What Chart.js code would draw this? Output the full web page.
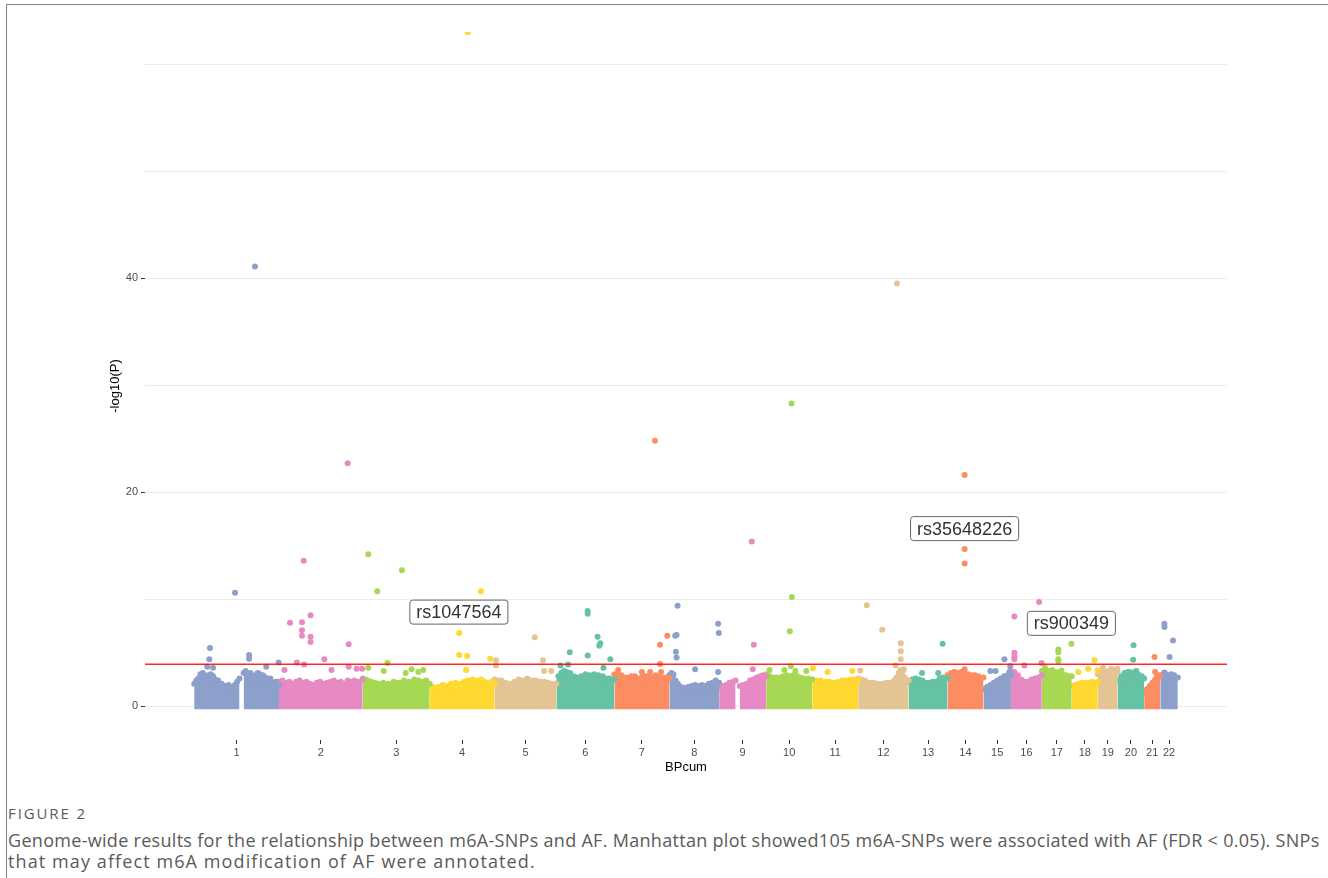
<!DOCTYPE html>
<html>
<head>
<meta charset="utf-8">
<script src="https://cdn.jsdelivr.net/npm/chart.js@4.4.1/dist/chart.umd.min.js"></script>
<style>
  html, body { margin: 0; padding: 0; background: #fff; }
  body { width: 1328px; height: 878px; position: relative; overflow: hidden; }
  #frame { position: absolute; left: 6px; top: 4px; width: 1322px; height: 874px;
           border-top: 1px solid #808080; border-left: 1px solid #808080; }
  #plot { position: absolute; left: 0; top: 0; }
  .caption { position: absolute; left: 8px; font-family: "Open Sans", sans-serif; color: #5a5a5a; white-space: nowrap; }
  #figno { top: 803px; font-size: 15px; letter-spacing: 1.9px; }
  #figline1 { top: 830px; font-size: 18px; line-height: 21px; letter-spacing: 0.3px; }
  #figline2 { top: 851px; font-size: 18px; line-height: 21px; letter-spacing: 1.1px; }
</style>
</head>
<body>
<div id="frame"></div>
<canvas id="plot" width="1328" height="790"></canvas>
<div class="caption" id="figno">FIGURE 2</div>
<div class="caption" id="figline1">Genome-wide results for the relationship between m6A-SNPs and AF. Manhattan plot showed105 m6A-SNPs were associated with AF (FDR &lt; 0.05). SNPs</div>
<div class="caption" id="figline2">that may affect m6A modification of AF were annotated.</div>
<script>
// chromosomes and their lengths (Mb) used to build BPcum
const chromosomes = ['1','2','3','4','5','6','7','8','9','10','11','12','13','14','15','16','17','18','19','20','21','22'];
const chromLengthMb = [247,244,195,189,180,169,160,145,137,134,134,147,113,105,80,90,87,76,58,77,47,51];
const chromColours = ['#8DA0CB','#E78AC3','#A6D854','#FFD92F','#E5C494','#66C2A5','#FC8D62'];

const yGrid = [0,10,20,30,40,50,60];
const yLabels = [0,20,40];
const threshold = 3.93;

// upper edge of the dense cloud of SNPs per chromosome: [position Mb, -log10(P)], null = no SNPs
const bandEdge = [
  [[0,2.1],[6,2.4],[12,2.6],[18,3.0],[25,3.1],[32,2.8],[40,2.9],[48,3.0],[55,2.8],[62,2.5],[70,2.4],[80,2.1],[90,1.9],[100,2.0],[110,1.8],[118,2.0],[125,2.3],[132,2.6],[137,null],[144,3.1],[150,3.3],[157,2.9],[164,3.1],[170,2.6],[178,2.9],[185,3.1],[192,3.0],[200,2.9],[208,2.7],[215,2.5],[222,2.6],[230,2.2],[238,2.3],[247,2.0]],
  [[0,2.3],[10,2.4],[20,2.2],[30,2.3],[40,2.1],[50,2.3],[60,2.4],[70,2.2],[80,2.3],[90,2.1],[100,2.0],[110,2.2],[120,2.3],[130,2.1],[140,2.2],[150,2.3],[160,2.4],[170,2.2],[180,2.3],[190,2.1],[200,2.4],[210,2.3],[220,2.4],[232,2.3],[244,2.5]],
  [[0,2.6],[8,2.5],[15,2.4],[25,2.3],[35,2.2],[45,2.1],[60,2.2],[75,2.1],[90,2.3],[105,2.2],[120,2.4],[135,2.3],[150,2.5],[162,2.4],[175,2.3],[185,2.4],[195,2.1]],
  [[0,1.9],[10,1.8],[25,1.8],[38,2.0],[50,1.9],[62,2.1],[75,2.2],[88,2.1],[100,2.3],[112,2.4],[125,2.5],[138,2.4],[150,2.5],[160,2.3],[170,2.2],[180,2.3],[189,2.1]],
  [[0,2.5],[10,2.4],[20,2.4],[32,2.2],[45,2.1],[58,2.3],[70,2.5],[82,2.4],[95,2.6],[108,2.4],[120,2.4],[132,2.3],[145,2.3],[155,2.2],[165,2.1],[180,2.1]],
  [[0,2.1],[6,2.8],[14,3.1],[22,3.3],[30,3.2],[40,3.1],[50,2.8],[60,2.7],[72,2.8],[85,3.0],[98,2.9],[110,3.0],[122,2.9],[135,2.8],[145,2.6],[155,2.6],[169,2.5]],
  [[0,3.0],[10,2.9],[20,2.9],[30,2.7],[40,2.7],[50,2.8],[60,2.8],[70,2.6],[80,2.7],[90,2.8],[100,2.8],[110,2.7],[120,2.9],[130,2.8],[140,2.7],[150,2.7],[160,2.6]],
  [[0,2.9],[6,3.1],[12,3.0],[18,2.4],[25,2.1],[35,1.8],[45,1.7],[55,1.8],[65,1.9],[75,2.0],[85,1.9],[95,2.0],[105,1.9],[115,2.1],[125,2.2],[135,2.4],[145,2.2]],
  [[0,1.8],[10,1.9],[20,2.0],[30,2.2],[40,2.3],[48,2.4],[53,null],[60,1.9],[70,2.0],[80,2.1],[90,2.4],[100,2.5],[110,2.7],[120,2.8],[128,2.9],[137,2.8]],
  [[0,3.0],[10,2.8],[20,2.7],[30,2.7],[40,2.7],[50,2.8],[60,2.9],[70,2.8],[80,2.9],[90,2.8],[100,2.7],[110,2.6],[122,2.6],[134,2.5]],
  [[0,2.5],[12,2.4],[25,2.4],[38,2.3],[50,2.3],[62,2.2],[75,2.3],[88,2.4],[100,2.4],[112,2.5],[124,2.5],[134,2.4]],
  [[0,2.6],[10,2.5],[20,2.4],[32,2.2],[45,2.2],[58,2.1],[70,2.1],[82,2.2],[95,2.2],[105,2.4],[112,2.7],[118,3.1],[124,3.4],[130,3.3],[136,2.7],[147,2.4]],
  [[0,2.3],[10,2.5],[20,2.6],[30,2.5],[40,2.4],[50,2.2],[60,2.2],[70,2.3],[80,2.3],[90,2.6],[100,2.7],[113,2.6]],
  [[0,2.9],[10,3.1],[20,3.2],[30,3.1],[40,3.2],[50,3.1],[60,3.0],[70,2.9],[80,2.9],[90,2.8],[105,2.7]],
  [[0,1.6],[10,1.8],[20,2.0],[30,2.2],[40,2.4],[50,2.6],[60,2.8],[70,2.9],[80,2.9]],
  [[0,3.3],[10,3.2],[20,2.9],[30,2.5],[40,2.3],[50,2.3],[60,2.5],[70,2.6],[80,2.7],[90,2.9]],
  [[0,3.3],[10,3.4],[20,3.3],[30,3.4],[40,3.2],[50,3.1],[60,3.0],[70,2.9],[80,2.8],[87,2.8]],
  [[0,1.9],[10,2.0],[20,2.1],[30,2.2],[40,2.2],[50,2.2],[60,2.3],[68,2.2],[76,2.3]],
  [[0,3.0],[8,3.2],[16,3.3],[24,3.2],[32,3.3],[40,3.3],[48,3.4],[58,3.2]],
  [[0,2.4],[10,2.8],[20,3.1],[30,3.2],[40,3.1],[50,3.2],[60,3.0],[70,2.8],[77,2.6]],
  [[0,1.3],[8,1.6],[16,1.9],[24,2.2],[32,2.5],[38,2.8],[44,2.9],[47,2.8]],
  [[0,2.8],[8,3.0],[16,3.0],[24,2.9],[32,3.0],[40,2.9],[51,2.7]]
];

// SNPs standing out of the cloud: position in chromosome (Mb) and -log10(P)
const hitPos = [
  [177,119,46,44,38,160,160,210,246,55],
  [72,200,92,32,67,67,67,92,92,203,132,52,73,153,203,226,242,16],
  [16,42,114,72,16,61,125,142,162,176],
  [111,149,86,86,109,106,176],
  [117,4,4,141,144,165],
  [91,91,120,128,125,39,91,157,12,34,137],
  [118,154,133,133,136,11,80,104],
  [24,17,21,19,21,142,144,75,142],
  [95,101,98],
  [74,75,69,72,10,53,85,117],
  [2,45,117],
  [113,25,70,124,124,124,109,133,6],
  [99,39,86],
  [50,50,50,21,50],
  [61,78,75,20,35],
  [10,82,10,10,10,39,89],
  [86,48,48,48,48,9,57],
  [66,48,19,75],
  [39,57,15],
  [46,45,54,33],
  [30,32],
  [12,12,37,27,12]
];
const hitLogP = [
  [41.1,10.6,5.45,4.4,3.7,4.8,4.45,3.7,4.1,3.6],
  [13.6,22.7,8.5,7.8,7.85,7.1,6.6,6.5,6.0,5.8,4.4,4.1,3.9,3.4,3.7,3.5,3.5,3.4],
  [14.2,10.75,12.7,4.05,3.6,3.3,3.1,3.45,3.2,3.4],
  [63.0,10.75,6.85,4.8,4.7,3.4,4.45],
  [6.45,4.3,3.8,4.3,3.3,3.3],
  [8.9,8.65,6.5,5.9,5.65,5.05,4.75,4.4,3.8,3.9,3.6],
  [24.8,6.6,5.75,3.95,3.2,3.4,3.2,3.2],
  [9.4,6.6,6.65,5.1,4.55,7.7,6.85,3.45,3.2],
  [15.4,5.75,3.45],
  [28.3,10.2,7.0,3.75,3.4,3.4,3.3,3.3],
  [3.55,3.2,3.3],
  [39.5,9.45,7.15,5.9,5.15,4.4,3.8,3.45,3.35],
  [5.85,3.1,3.1],
  [21.6,14.7,13.35,3.2,3.45],
  [4.4,3.75,3.2,3.3,3.3],
  [8.4,9.75,5.0,4.65,4.4,3.8,4.05],
  [5.85,5.3,5.05,4.4,4.2,3.6,3.35],
  [4.3,3.5,3.2,3.35],
  [3.5,3.5,3.6],
  [5.7,4.35,3.3,3.2],
  [4.6,3.2],
  [7.7,7.4,6.15,4.6,3.15]
];

// annotated SNPs
const labelText = ['rs1047564','rs35648226','rs900349'];
const labelChrom = [4,14,17];
const labelPos = [85,50,86];
const labelLogP = [8.8,16.6,7.75];

const offsets = [];
let run = 0;
chromLengthMb.forEach(len => { offsets.push(run); run += len; });
const genomeEnd = run;
const centres = offsets.map((o, i) => o + chromLengthMb[i] / 2);
const xPad = genomeEnd * 0.05;

const datasets = [];
datasets.push({
  type: 'line',
  data: [{x: -xPad, y: threshold}, {x: genomeEnd + xPad, y: threshold}],
  borderColor: 'rgba(255,0,0,0.85)',
  borderWidth: 1.6,
  pointRadius: 0,
  order: 1
});
chromosomes.forEach((c, i) => {
  const col = chromColours[i % chromColours.length];
  datasets.push({
    type: 'scatter',
    data: hitPos[i].map((p, k) => ({x: offsets[i] + p, y: hitLogP[i][k]})),
    backgroundColor: col,
    borderWidth: 0,
    pointRadius: 3,
    clip: 0,
    order: 2
  });
  datasets.push({
    type: 'line',
    data: bandEdge[i].map(([p, v]) => ({x: offsets[i] + p, y: v})),
    borderColor: col,
    backgroundColor: col,
    borderWidth: 2,
    borderJoinStyle: 'round',
    pointRadius: 3,
    pointBorderWidth: 0,
    pointBackgroundColor: col,
    spanGaps: false,
    fill: {value: -0.28},
    order: 3
  });
});

const rsLabels = {
  id: 'rsLabels',
  afterDatasetsDraw(chart) {
    const {ctx, scales: {x, y}} = chart;
    ctx.save();
    ctx.font = '18px "Liberation Sans", Arial, sans-serif';
    ctx.textAlign = 'center';
    ctx.textBaseline = 'middle';
    labelText.forEach((t, i) => {
      const cx = x.getPixelForValue(offsets[labelChrom[i] - 1] + labelPos[i]);
      const cy = y.getPixelForValue(labelLogP[i]);
      const w = ctx.measureText(t).width + 13;
      const h = 24;
      ctx.beginPath();
      ctx.roundRect(cx - w / 2, cy - h / 2, w, h, 3);
      ctx.fillStyle = '#fff';
      ctx.fill();
      ctx.lineWidth = 1;
      ctx.strokeStyle = '#666';
      ctx.stroke();
      ctx.fillStyle = '#333';
      ctx.fillText(t, cx, cy + 1);
    });
    ctx.restore();
  }
};

const axisFont = '"Liberation Sans", Arial, sans-serif';

new Chart(document.getElementById('plot'), {
  type: 'scatter',
  data: {datasets},
  plugins: [rsLabels],
  options: {
    responsive: false,
    animation: false,
    devicePixelRatio: 1,
    layout: {padding: {left: 100, right: 101, top: 32, bottom: 10}},
    plugins: {legend: {display: false}, tooltip: {enabled: false}},
    scales: {
      x: {
        type: 'linear',
        min: -xPad,
        max: genomeEnd + xPad,
        afterBuildTicks: s => { s.ticks = centres.map(v => ({value: v})); },
        afterFit: s => { s.height = 40; },
        ticks: {
          autoSkip: false, maxRotation: 0, padding: 2, color: '#4d4d4d',
          font: {family: axisFont, size: 11},
          callback: (v, i) => chromosomes[i]
        },
        grid: {drawOnChartArea: false, drawTicks: true, tickLength: 4, tickColor: '#333'},
        border: {display: false},
        title: {display: true, text: 'BPcum', color: '#000', font: {family: axisFont, size: 13}, padding: {top: 0, bottom: 5}}
      },
      y: {
        type: 'linear',
        min: -3.15,
        max: 63,
        afterBuildTicks: s => { s.ticks = yGrid.map(v => ({value: v})); },
        afterFit: s => { s.width = 45; },
        ticks: {
          padding: 3, color: '#4d4d4d',
          font: {family: axisFont, size: 11},
          callback: v => yLabels.includes(v) ? String(v) : ''
        },
        grid: {
          color: '#ebebeb', lineWidth: 1, tickLength: 4,
          tickColor: c => yLabels.includes(c.tick.value) ? '#333' : 'rgba(0,0,0,0)'
        },
        border: {display: false},
        title: {display: true, text: '-log10(P)', color: '#000', font: {family: axisFont, size: 13}, padding: {top: 8, bottom: 0}}
      }
    }
  }
});
</script>
</body>
</html>
